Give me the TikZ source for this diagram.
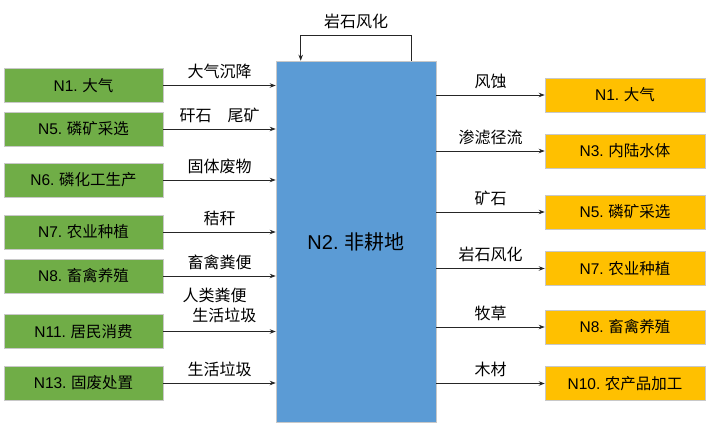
\documentclass[tikz,border=0pt]{standalone}
\usepackage{fontspec}
\setmainfont{Noto Sans CJK SC}
\newfontfamily\latinfont{Liberation Sans}
\usetikzlibrary{arrows.meta}
\definecolor{boxgreen}{HTML}{70AD47}
\definecolor{boxorange}{HTML}{FFC000}
\definecolor{boxblue}{HTML}{5B9BD5}
\definecolor{boxedge}{HTML}{C8C8C8}
\newcommand{\nid}[1]{{\latinfont #1}}
\tikzset{
  srcbox/.style={rectangle, fill=boxgreen, draw=boxedge, line width=0.6pt, minimum width=159pt, minimum height=34pt, inner sep=0pt, font=\fontsize{15.5}{18}\selectfont},
  dstbox/.style={rectangle, fill=boxorange, draw=boxedge, line width=0.6pt, minimum width=160pt, minimum height=34pt, inner sep=0pt, font=\fontsize{15.5}{18}\selectfont},
  hubbox/.style={rectangle, fill=boxblue, draw=boxedge, line width=0.6pt, minimum width=160pt, minimum height=361pt, inner sep=0pt, font=\fontsize{20}{24}\selectfont},
  flow/.style={draw=black!85, line width=0.8pt, -{Stealth[length=6pt,width=4.5pt]}},
  flowlab/.style={font=\fontsize{16}{20}\selectfont, inner sep=0pt, above=6pt}
}
\begin{document}
\begin{tikzpicture}[x=1pt,y=-1pt]
\useasboundingbox (0,0) rectangle (708,431);
% hub
\node[hubbox] (n2) at (356,241.5) {\nid{N2.} 非耕地};
% left sources
\node[srcbox] (l1) at (83.5,85.5) {\nid{N1.} 大气};
\node[srcbox] (l5) at (83.5,129) {\nid{N5.} 磷矿采选};
\node[srcbox] (l6) at (83.5,180) {\nid{N6.} 磷化工生产};
\node[srcbox] (l7) at (83.5,232) {\nid{N7.} 农业种植};
\node[srcbox] (l8) at (83.5,276) {\nid{N8.} 畜禽养殖};
\node[srcbox] (l11) at (83.5,331.5) {\nid{N11.} 居民消费};
\node[srcbox] (l13) at (83.5,383) {\nid{N13.} 固废处置};
% right destinations
\node[dstbox] (r1) at (625,95) {\nid{N1.} 大气};
\node[dstbox] (r3) at (625,151) {\nid{N3.} 内陆水体};
\node[dstbox] (r5) at (625,212) {\nid{N5.} 磷矿采选};
\node[dstbox] (r7) at (625,268.5) {\nid{N7.} 农业种植};
\node[dstbox] (r8) at (625,327) {\nid{N8.} 畜禽养殖};
\node[dstbox] (r10) at (625,383.5) {\nid{N10.} 农产品加工};
% left flows
\draw[flow] (l1.east) -- node[flowlab]{大气沉降} (l1.east -| n2.west);
\draw[flow] (l5.east) -- node[flowlab]{矸石\hspace{1em}尾矿} (l5.east -| n2.west);
\draw[flow] (l6.east) -- node[flowlab]{固体废物} (l6.east -| n2.west);
\draw[flow] (l7.east) -- node[flowlab]{秸秆} (l7.east -| n2.west);
\draw[flow] (l8.east) -- node[flowlab]{畜禽粪便} (l8.east -| n2.west);
\draw[flow] (l11.east) -- node[flowlab, above=2pt, align=left, font=\fontsize{16}{20}\selectfont]{人类粪便\\\hspace{0.6em}生活垃圾} (l11.east -| n2.west);
\draw[flow] (l13.east) -- node[flowlab]{生活垃圾} (l13.east -| n2.west);
% right flows
\draw[flow] (r1.west -| n2.east) -- node[flowlab]{风蚀} (r1.west);
\draw[flow] (r3.west -| n2.east) -- node[flowlab]{渗滤径流} (r3.west);
\draw[flow] (r5.west -| n2.east) -- node[flowlab]{矿石} (r5.west);
\draw[flow] (r7.west -| n2.east) -- node[flowlab]{岩石风化} (r7.west);
\draw[flow] (r8.west -| n2.east) -- node[flowlab]{牧草} (r8.west);
\draw[flow] (r10.west -| n2.east) -- node[flowlab]{木材} (r10.west);
% self loop
\coordinate (loopa) at ([xshift=-25pt]n2.north east);
\coordinate (loopb) at ([xshift=25pt]n2.north west);
\draw[flow] (loopa) -- ++(0,-25) -| node[pos=0.25, flowlab]{岩石风化} (loopb);
\end{tikzpicture}
\end{document}
